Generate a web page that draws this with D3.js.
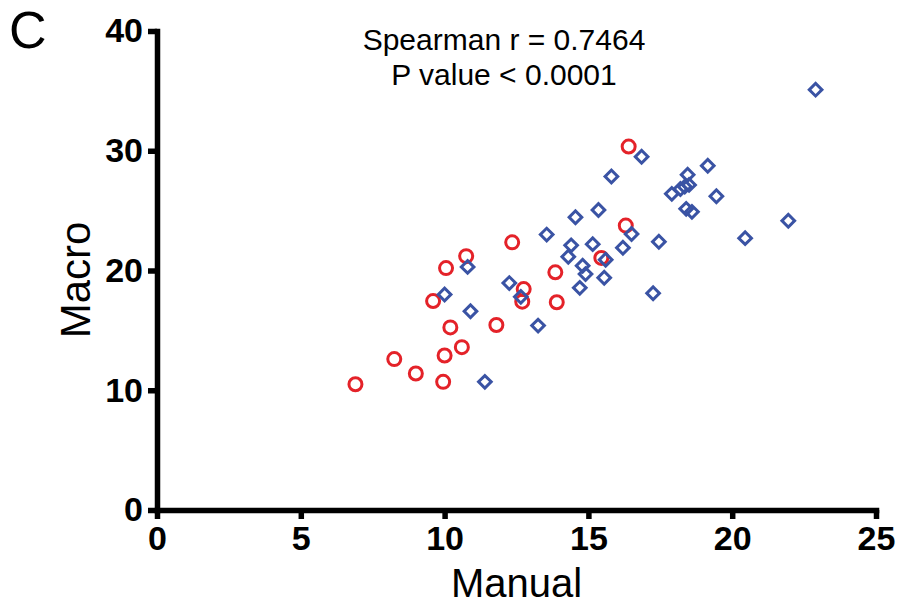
<!DOCTYPE html>
<html lang="en">
<head>
    <meta charset="UTF-8">
    <title>Macro vs Manual</title>
    <script src="https://d3js.org/d3.v7.min.js"></script>
    <style>
        body { margin: 0; background: #fff; }
        svg text { font-family: Arial, "Liberation Sans", sans-serif; fill: #000; }
        .axis path, .axis line { stroke: #000; stroke-width: 5.5px; }
        .axis path { stroke-linecap: square; }
        .axis text { font-size: 34px; font-weight: bold; }
    </style>
</head>
<body>
    <div id="chart"></div>

    <script>
        // group 1 (red circles)
        const manualA = [6.9, 8.25, 9.0, 9.95, 10.0, 10.6, 10.2, 11.8, 9.6, 10.05, 10.75, 12.35, 16.4, 16.3, 15.45, 13.85, 12.75, 12.7, 13.9];
        const macroA  = [10.5, 12.6, 11.4, 10.7, 12.9, 13.6, 15.25, 15.45, 17.45, 20.2, 21.2, 22.35, 30.35, 23.75, 21.05, 19.85, 18.45, 17.4, 17.35];

        // group 2 (blue diamonds)
        const manualB = [22.9, 16.85, 15.8, 19.15, 18.45, 17.9, 18.2, 18.35, 18.5, 19.45, 18.4, 18.6, 15.35, 14.55, 21.95, 13.55, 16.5, 20.45,
                         17.45, 14.4, 15.15, 16.2, 14.3, 15.6, 14.8, 14.9, 15.55, 12.25, 12.65, 14.7, 17.25, 13.25, 10.8, 10.0, 10.9, 11.4];
        const macroB  = [35.1, 29.5, 27.85, 28.75, 28.0, 26.4, 26.8, 27.0, 27.15, 26.2, 25.15, 24.9, 25.05, 24.45, 24.15, 23.0, 23.05, 22.7,
                         22.4, 22.1, 22.2, 21.9, 21.15, 20.9, 20.4, 19.7, 19.4, 18.95, 17.8, 18.55, 18.1, 15.4, 20.3, 18.0, 16.6, 10.7];

        const xTicks = [0, 5, 10, 15, 20, 25];
        const yTicks = [0, 10, 20, 30, 40];
        const statLines = ["Spearman r = 0.7464", "P value < 0.0001"];

        const width = 898, height = 611;

        const svg = d3.select("#chart")
            .append("svg")
            .attr("width", width)
            .attr("height", height);

        const x = d3.scaleLinear().domain([0, 25]).range([157, 876]);
        const y = d3.scaleLinear().domain([0, 40]).range([510, 31]);

        // axes
        svg.append("g")
            .attr("class", "axis")
            .attr("transform", `translate(0,${y(0)})`)
            .call(d3.axisBottom(x).tickValues(xTicks).tickSize(9).tickSizeOuter(0).tickPadding(7));

        svg.append("g")
            .attr("class", "axis")
            .attr("transform", `translate(${x(0)},0)`)
            .call(d3.axisLeft(y).tickValues(yTicks).tickSize(9).tickSizeOuter(0).tickPadding(5));

        // points
        const red = "#e42229", blue = "#3a53a4";

        const dataA = manualA.map((v, i) => ({ x: v, y: macroA[i] }));
        const dataB = manualB.map((v, i) => ({ x: v, y: macroB[i] }));

        svg.append("g").selectAll("circle")
            .data(dataA)
            .enter()
            .append("circle")
            .attr("cx", d => x(d.x))
            .attr("cy", d => y(d.y))
            .attr("r", 6.5)
            .attr("fill", "none")
            .attr("stroke", red)
            .attr("stroke-width", 3);

        const diamond = d3.symbol().type(d3.symbolSquare).size(80);
        svg.append("g").selectAll("path")
            .data(dataB)
            .enter()
            .append("path")
            .attr("d", diamond)
            .attr("transform", d => `translate(${x(d.x)},${y(d.y)}) rotate(45)`)
            .attr("fill", "none")
            .attr("stroke", blue)
            .attr("stroke-width", 3);

        // axis titles
        svg.append("text")
            .attr("x", (x(0) + x(25)) / 2)
            .attr("y", 597)
            .attr("text-anchor", "middle")
            .style("font-size", "40px")
            .text("Manual");

        svg.append("text")
            .attr("transform", "translate(90,280) rotate(-90)")
            .attr("text-anchor", "middle")
            .style("font-size", "42px")
            .text("Macro");

        // stats
        svg.append("g").selectAll("text")
            .data(statLines)
            .enter()
            .append("text")
            .attr("x", 504)
            .attr("y", (d, i) => 50 + i * 35)
            .attr("text-anchor", "middle")
            .style("font-size", "30px")
            .text(d => d);

        // panel letter
        svg.append("text")
            .attr("x", 9)
            .attr("y", 48)
            .style("font-size", "52px")
            .text("C");
    </script>
</body>
</html>
